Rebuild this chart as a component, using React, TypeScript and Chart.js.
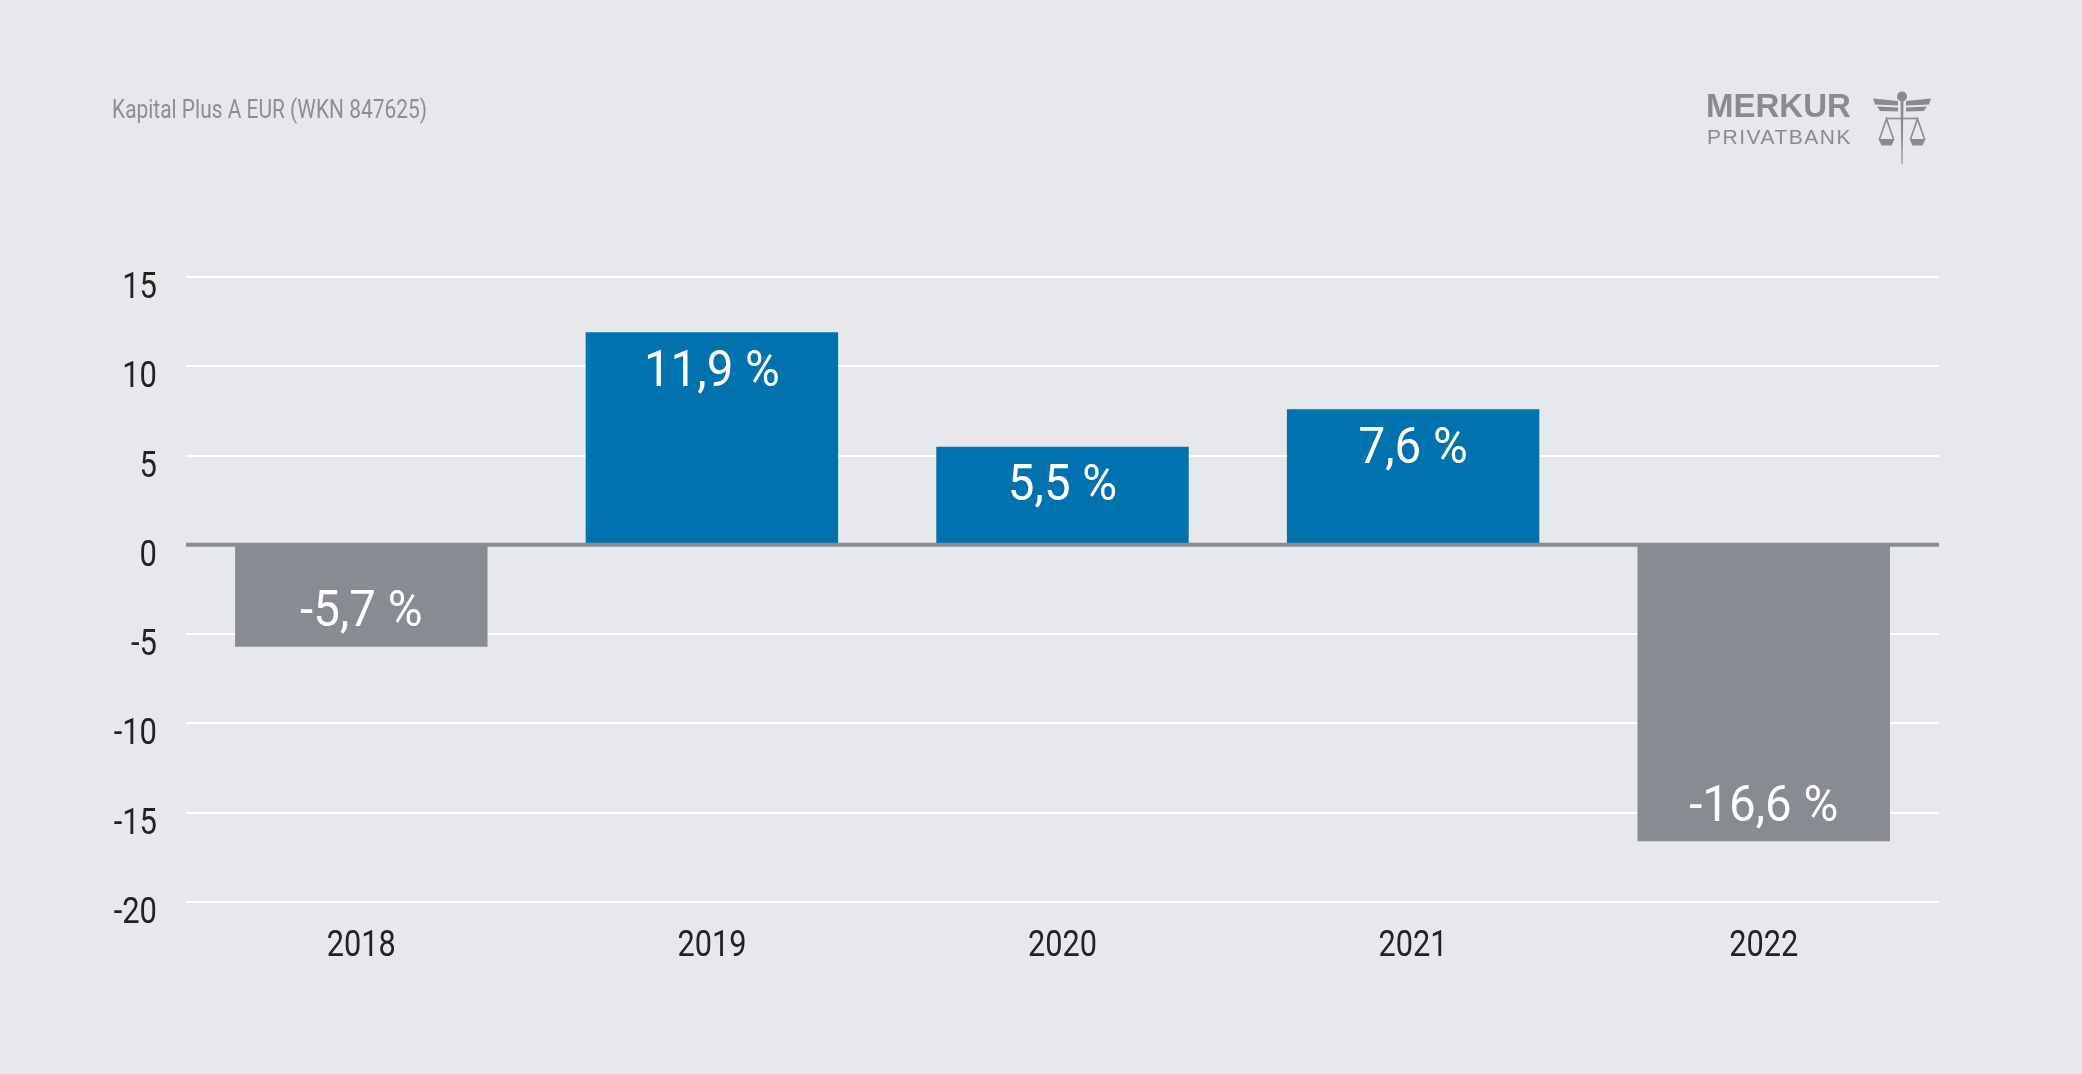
import React, { useEffect, useRef } from "react";
import { Chart, registerables } from "chart.js";

Chart.register(...registerables);

const categories = ["2018", "2019", "2020", "2021", "2022"];
const values = [-5.7, 11.9, 5.5, 7.6, -16.6];
const valueLabels = ["-5,7 %", "11,9 %", "5,5 %", "7,6 %", "-16,6 %"];
const yMin = -20;
const yMax = 15;
const yStep = 5;
const title = "Kapital Plus A EUR (WKN 847625)";

const BLUE = "#0073ae";
const GREY = "#898b93";
const BG = "#e7e8ec";
const FONT = "Roboto, 'Liberation Sans', sans-serif";

function condensedText(ctx: any, text: string, x: number, y: number, sx: number) {
  ctx.save();
  ctx.translate(x, y);
  ctx.scale(sx, 1);
  ctx.fillText(text, 0, 0);
  ctx.restore();
}

export default function App() {
  const ref = useRef<HTMLCanvasElement>(null);

  useEffect(() => {
    document.body.style.margin = "0";
    document.body.style.background = BG;
    const canvas = ref.current!;
    const textPlugin = {
      id: "customTexts",
      afterDraw(chart: any) {
        const { ctx, scales } = chart;
        ctx.save();
        // title
        ctx.fillStyle = "#8c8e94";
        ctx.font = `400 25px ${FONT}`;
        ctx.textAlign = "left";
        ctx.textBaseline = "middle";
        const tw = ctx.measureText(title).width;
        condensedText(ctx, title, 112, 112, 315 / tw);
        // y tick labels
        ctx.fillStyle = "#222222";
        ctx.font = `400 36px ${FONT}`;
        ctx.textAlign = "right";
        ctx.textBaseline = "middle";
        scales.y.ticks.forEach((t: any) => {
          const y = scales.y.getPixelForValue(t.value) + 12;
          condensedText(ctx, String(t.value), 157, y, 0.86);
        });
        // x tick labels
        ctx.font = `400 37px ${FONT}`;
        ctx.textAlign = "center";
        categories.forEach((c, i) => {
          const x = scales.x.getPixelForTick(i);
          condensedText(ctx, c, x, 947, 0.83);
        });
        ctx.restore();
      },
      afterDatasetsDraw(chart: any) {
        const { ctx, chartArea, scales } = chart;
        const y0 = scales.y.getPixelForValue(0);
        ctx.save();
        ctx.strokeStyle = "#8a8c94";
        ctx.lineWidth = 4;
        ctx.beginPath();
        ctx.moveTo(chartArea.left, y0);
        ctx.lineTo(chartArea.right, y0);
        ctx.stroke();
        const meta = chart.getDatasetMeta(0);
        ctx.fillStyle = "#ffffff";
        ctx.font = `400 50px ${FONT}`;
        ctx.textAlign = "center";
        ctx.textBaseline = "middle";
        meta.data.forEach((bar: any, i: number) => {
          const v = values[i];
          const y = v >= 0 ? bar.y + 41 : bar.y - 33;
          condensedText(ctx, valueLabels[i], bar.x, y, 0.95);
        });
        ctx.restore();
      },
    };
    const chart = new Chart(canvas, {
      type: "bar",
      data: {
        labels: categories,
        datasets: [
          {
            data: values,
            backgroundColor: values.map((v) => (v >= 0 ? BLUE : GREY)),
            borderWidth: 0,
            categoryPercentage: 0.72,
            barPercentage: 1,
          },
        ],
      },
      options: {
        animation: false,
        responsive: false,
        maintainAspectRatio: false,
        layout: { padding: { top: 277, right: 143, bottom: 0, left: 0 } },
        plugins: { legend: { display: false }, tooltip: { enabled: false }, title: { display: false } },
        scales: {
          x: {
            grid: { display: false, drawTicks: false },
            border: { display: false },
            ticks: { display: false },
            afterFit: (s: any) => {
              s.height = 1074 - 902;
            },
          },
          y: {
            min: yMin,
            max: yMax,
            ticks: { stepSize: yStep, display: false },
            grid: {
              color: (c: any) => (c.tick && c.tick.value === 0 ? "rgba(0,0,0,0)" : "#ffffff"),
              lineWidth: 2,
              drawTicks: false,
            },
            border: { display: false },
            afterFit: (s: any) => {
              s.width = 186;
            },
          },
        },
      },
      plugins: [textPlugin],
    });
    return () => chart.destroy();
  }, []);

  return (
    <div style={{ position: "relative", width: 2082, height: 1074, background: BG, overflow: "hidden" }}>
      <canvas ref={ref} width={2082} height={1074} style={{ position: "absolute", left: 0, top: 0, display: "block" }} />
      <div
        style={{
          position: "absolute",
          left: 1706,
          top: 91,
          fontFamily: "'Liberation Sans', Arial, sans-serif",
          fontWeight: "bold",
          fontSize: 33,
          color: "#8a8b8f",
          lineHeight: "30px",
          whiteSpace: "nowrap",
        }}
      >
        MERKUR
      </div>
      <div
        style={{
          position: "absolute",
          left: 1707,
          top: 125,
          fontFamily: "'Liberation Sans', Arial, sans-serif",
          fontSize: 21,
          letterSpacing: 1.5,
          color: "#8a8b8f",
          lineHeight: "24px",
          whiteSpace: "nowrap",
        }}
      >
        PRIVATBANK
      </div>
      <svg style={{ position: "absolute", left: 1862, top: 86 }} width={80} height={82} viewBox="0 0 80 82">
        <g fill="#8a8b8f" stroke="none">
          <circle cx={40} cy={10.5} r={5} />
          <polygon points="11,12.5 36,15 36,19.5 13,18.5" />
          <polygon points="69,12.5 44,15 44,19.5 67,18.5" />
          <polygon points="15,20.5 36,21.5 36,25.5 18,25" />
          <polygon points="65,20.5 44,21.5 44,25.5 62,25" />
          <polygon points="38.5,13 41.5,13 40.5,78 39.5,78" />
          <polygon points="16.5,53 32.5,53 29.5,59.5 19.5,59.5" />
          <polygon points="47.5,53 63.5,53 60.5,59.5 50.5,59.5" />
        </g>
        <g fill="none" stroke="#8a8b8f" strokeWidth={1.6}>
          <line x1={24} y1={32.5} x2={56} y2={32.5} />
          <polyline points="17.5,53 24.5,33 31.5,53" />
          <polyline points="48.5,53 55.5,33 62.5,53" />
        </g>
      </svg>
    </div>
  );
}
